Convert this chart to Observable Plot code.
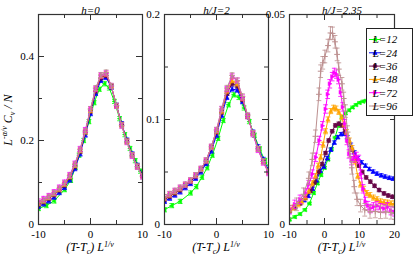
<!DOCTYPE html>
<html><head><meta charset="utf-8">
<script src="https://cdn.jsdelivr.net/npm/d3@7"></script>
<script src="https://cdn.jsdelivr.net/npm/@observablehq/plot@0.6"></script>
<style>
body{margin:0;background:#fff;}
#chart{position:relative;width:415px;height:256px;overflow:hidden;background:#fff;}
#chart svg{position:absolute;left:0;top:0;}
</style></head><body><div id="chart"></div>
<script>
// ---- series names and colours ----
const sizes = [12, 24, 36, 48, 72, 96];
const colors = ["#00ff00", "#0000ff", "#670748", "#ffa500", "#ff00ff", "#bc8f8f"];
const panelTitles = ["h=0", "h/J=2", "h/J=2.35"];

// ---- tick values ----
const xMajor12 = [-10, 0, 10], xMinor12 = [-5, 5];
const xMajor3 = [-10, 0, 10, 20], xMinor3 = [-5, 5, 15];
const yMajor1 = [0, 0.2, 0.4], yMinor1 = [0.1, 0.3];
const yMajor2 = [0, 0.1, 0.2], yMinor2 = [0.05, 0.15];
const yMajor3 = [0, 0.05], yMinor3 = [0.025];

// ---- panel 1: h=0  ([x, y]) ----
const h0_L12 = [[-10,0.038],[-8.5,0.045],[-7,0.056],[-5,0.083],[-3.8,0.105],[-2.9,0.136],[-2.2,0.165],[-1.3,0.2],[-0.3,0.245],[0.7,0.29],[1.7,0.322],[2.7,0.335],[3.6,0.325],[4.6,0.293],[5.6,0.252],[6.6,0.214],[7.6,0.181],[8.6,0.152],[9.6,0.127],[10.5,0.11]];
const h0_L24 = [[-10,0.043],[-9,0.049],[-8,0.056],[-7,0.065],[-6,0.076],[-5,0.088],[-4,0.106],[-3,0.133],[-2,0.168],[-1,0.213],[0,0.264],[1,0.312],[2,0.343],[3,0.350],[4,0.327],[5,0.284],[6,0.240],[7,0.201],[8,0.168],[9,0.141],[10,0.119]];
const h0_L36 = [[-10,0.048],[-9,0.054],[-8,0.062],[-7,0.071],[-6,0.082],[-5,0.094],[-4,0.112],[-3,0.139],[-2,0.174],[-1,0.219],[0,0.270],[1,0.318],[2,0.349],[3,0.355],[4,0.328],[5,0.283],[6,0.238],[7,0.199],[8,0.166],[9,0.139],[10,0.117]];
const h0_L48 = [[-10,0.050],[-9,0.056],[-8,0.064],[-7,0.073],[-6,0.084],[-5,0.096],[-4,0.114],[-3,0.141],[-2,0.176],[-1,0.221],[0,0.272],[1,0.322],[2,0.353],[3,0.358],[4,0.330],[5,0.283],[6,0.237],[7,0.198],[8,0.165],[9,0.138],[10,0.116]];
const h0_L72 = [[-10,0.055],[-9,0.061],[-8,0.068],[-7,0.077],[-6,0.088],[-5,0.100],[-4,0.118],[-3,0.145],[-2,0.180],[-1,0.225],[0,0.275],[1,0.323],[2,0.355],[3,0.360],[4,0.330],[5,0.282],[6,0.235],[7,0.196],[8,0.163],[9,0.137],[10,0.114]];
const h0_L96 = [[-10,0.052],[-9,0.058],[-8,0.066],[-7,0.075],[-6,0.086],[-5,0.098],[-4,0.116],[-3,0.143],[-2,0.178],[-1,0.222],[0,0.275],[1,0.325],[2,0.356],[3,0.362],[4,0.330],[5,0.283],[6,0.236],[7,0.197],[8,0.165],[9,0.138],[10,0.115]];
const err_h0 = [0.005, 0.005, 0.005, 0.005, 0.006, 0.006];

// ---- panel 2: h/J=2 ----
const h2_L12 = [[-10,0.014],[-8.6,0.018],[-7,0.022],[-5,0.030],[-3.9,0.036],[-2.8,0.045],[-1.8,0.054],[-0.8,0.066],[0.3,0.082],[1.3,0.099],[2.3,0.114],[3.3,0.1235],[4.3,0.121],[5.3,0.111],[6.3,0.098],[7.3,0.085],[8.3,0.072],[9.3,0.061],[10.3,0.052]];
const h2_L24 = [[-10,0.022],[-9,0.025],[-8,0.028],[-7,0.031],[-6,0.035],[-5,0.039],[-4,0.044],[-3,0.050],[-2,0.058],[-1,0.070],[0,0.085],[1,0.104],[2,0.121],[3,0.129],[4,0.128],[5,0.117],[6,0.103],[7,0.088],[8,0.074],[9,0.062],[10,0.052]];
const h2_L36 = [[-10,0.024],[-9,0.027],[-8,0.030],[-7,0.033],[-6,0.037],[-5,0.041],[-4,0.046],[-3,0.052],[-2,0.060],[-1,0.073],[0,0.088],[1,0.107],[2,0.125],[3,0.134],[4,0.132],[5,0.119],[6,0.103],[7,0.087],[8,0.072],[9,0.060],[10,0.050]];
const h2_L48 = [[-10,0.025],[-9,0.028],[-8,0.031],[-7,0.034],[-6,0.038],[-5,0.042],[-4,0.047],[-3,0.053],[-2,0.061],[-1,0.074],[0,0.089],[1,0.108],[2,0.127],[3,0.137],[4,0.134],[5,0.120],[6,0.103],[7,0.087],[8,0.072],[9,0.060],[10,0.050]];
const h2_L72 = [[-10,0.026],[-9,0.029],[-8,0.032],[-7,0.035],[-6,0.038],[-5,0.042],[-4,0.047],[-3,0.053],[-2,0.061],[-1,0.074],[0,0.090],[1,0.110],[2,0.129],[3,0.141],[4,0.137],[5,0.121],[6,0.103],[7,0.086],[8,0.071],[9,0.059],[10,0.049]];
const h2_L96 = [[-10,0.026],[-9,0.029],[-8,0.032],[-7,0.035],[-6,0.038],[-5,0.042],[-4,0.047],[-3,0.053],[-2,0.061],[-1,0.074],[0,0.090],[1,0.110],[2,0.130],[3,0.142],[4,0.137],[5,0.122],[6,0.104],[7,0.087],[8,0.072],[9,0.060],[10,0.050]];
const err_h2 = [0.002, 0.002, 0.002, 0.002, 0.0025, 0.0025];

// ---- panel 3: h/J=2.35 ----
const h235_L12 = [[-10,0.0012],[-8.5,0.0018],[-7,0.0025],[-5.6,0.0035],[-4.3,0.005],[-3.1,0.0075],[-2,0.0098],[-1,0.0118],[0,0.0135],[1,0.0155],[2,0.018],[3,0.0207],[4,0.0235],[5,0.0256],[6,0.0265],[7,0.0272],[8,0.0279],[9,0.0285],[10,0.029],[11,0.0293],[12,0.0295],[13.5,0.0296],[15,0.0294],[16.5,0.0292],[18,0.029],[19.5,0.0288]];
const h235_L24 = [[-10,0.0032],[-8.5,0.0042],[-7,0.0052],[-5.8,0.0058],[-4.6,0.0068],[-3.4,0.0085],[-2.3,0.0105],[-1.2,0.0128],[-0.2,0.0138],[0.8,0.0158],[1.8,0.0178],[2.8,0.0195],[3.8,0.0208],[4.7,0.0215],[5.6,0.0216],[6.5,0.0208],[7.5,0.019],[8.5,0.0172],[9.5,0.0158],[10.6,0.0148],[11.7,0.014],[12.8,0.0132],[13.9,0.0126],[15,0.0121],[16.2,0.0117],[17.3,0.0114],[18.5,0.0111],[19.6,0.0109]];
const h235_L36 = [[-10,0.0032],[-8.4,0.0041],[-7,0.005],[-5.5,0.0063],[-4,0.008],[-2.8,0.010],[-1.7,0.0125],[-0.7,0.0144],[0.3,0.017],[1.2,0.020],[2.2,0.0222],[3.1,0.0236],[4.1,0.024],[5.0,0.0236],[5.9,0.0222],[6.8,0.020],[7.8,0.0178],[8.8,0.0158],[9.8,0.014],[10.8,0.0125],[11.9,0.0112],[13.1,0.0102],[14.3,0.0092],[15.6,0.0082],[17,0.0074],[18.2,0.0069],[19.4,0.0066]];
const h235_L48 = [[-10,0.0035],[-9,0.004],[-7.5,0.0048],[-6.5,0.0055],[-5.5,0.0065],[-4.5,0.008],[-3.5,0.0098],[-2.6,0.0115],[-1.8,0.014],[-1.1,0.016],[-0.4,0.019],[0.3,0.0222],[1.0,0.025],[1.8,0.027],[2.6,0.0278],[3.3,0.0276],[4.1,0.0268],[4.9,0.0255],[5.6,0.0238],[6.3,0.022],[7.1,0.020],[7.9,0.0182],[8.7,0.015],[9.5,0.0115],[10.3,0.0095],[11.2,0.0085],[12.1,0.0075],[13,0.007],[14,0.0064],[15,0.006],[16,0.0055],[17,0.0053],[18,0.0052],[19,0.005],[20,0.005]];
const h235_L72 = [[-10,0.0035],[-8.5,0.0048],[-7,0.006],[-5.5,0.0075],[-4.5,0.0095],[-3.5,0.012],[-2.5,0.016],[-1.5,0.020],[-0.6,0.0235],[0.3,0.0275],[0.9,0.031],[1.5,0.0335],[2.2,0.0352],[2.8,0.0362],[3.4,0.0358],[4.0,0.0345],[4.6,0.0315],[5.2,0.028],[5.8,0.024],[6.4,0.020],[7.0,0.0168],[7.7,0.0152],[8.4,0.0158],[9.1,0.0162],[9.8,0.0155],[10.4,0.012],[11.0,0.0085],[11.7,0.0055],[12.4,0.0045],[13.1,0.0038],[14,0.0042],[15,0.0045],[16,0.004],[17,0.0038],[18,0.0042],[19,0.0033],[20,0.003]];
const h235_L96 = [[-10,0.003],[-8,0.0048],[-6,0.0072],[-4.5,0.011],[-3.5,0.0155],[-2.6,0.021],[-1.6,0.031],[-1.1,0.0365],[-0.5,0.0385],[0.1,0.040],[1.0,0.0426],[1.7,0.0456],[2.3,0.0455],[3.0,0.0435],[3.6,0.0405],[4.1,0.037],[5.0,0.0335],[5.5,0.030],[6.0,0.027],[6.6,0.022],[7.2,0.0175],[7.8,0.0135],[8.5,0.009],[9.3,0.006],[10.3,0.0045],[11.5,0.0035],[13,0.003],[14.5,0.0031],[16,0.0029],[17.5,0.003],[19,0.0028],[20,0.0027]];
const err_h235 = [0.0003, 0.0004, 0.0004, 0.0006, 0.001, 0.0015];

// ---- symbols ----
const triLeft = {draw(c, s){const r = Math.sqrt(s/Math.PI)*1.15; c.moveTo(-r,0); c.lineTo(r*0.7,-r*0.9); c.lineTo(r*0.7,r*0.9); c.closePath();}};
const triRight = {draw(c, s){const r = Math.sqrt(s/Math.PI)*1.15; c.moveTo(r,0); c.lineTo(-r*0.7,-r*0.9); c.lineTo(-r*0.7,r*0.9); c.closePath();}};
const triUp = {draw(c, s){const r = Math.sqrt(s/Math.PI)*1.15; c.moveTo(0,-r); c.lineTo(r*0.9,r*0.7); c.lineTo(-r*0.9,r*0.7); c.closePath();}};
const hline = {draw(c, s){const r = Math.sqrt(s/Math.PI); c.moveTo(-r,0); c.lineTo(r,0);}};
const symbols = [triLeft, triUp, "circle", triUp, triRight, "plus"];

const W = 415, H = 256, TOP = 14, BOTTOM = 224;
const FONT = "'Liberation Serif', 'Times New Roman', serif";

function panel(p) {
  const fw = p.right - p.left, fh = BOTTOM - TOP;
  const marks = [];
  p.series.forEach((arr, i) => {
    const rows = arr.map(([x, y]) => ({x, y, e: p.err[i]}));
    const col = colors[i];
    marks.push(Plot.line(rows, {x: "x", y: "y", stroke: col, strokeWidth: 1, clip: true}));
    marks.push(Plot.ruleX(rows, {x: "x", y1: d => d.y - d.e, y2: d => d.y + d.e, stroke: col, strokeWidth: 0.8, clip: true}));
    marks.push(Plot.dot(rows, {x: "x", y: d => d.y + d.e, symbol: hline, r: 2.4, stroke: col, strokeWidth: 0.8, clip: true}));
    marks.push(Plot.dot(rows, {x: "x", y: d => d.y - d.e, symbol: hline, r: 2.4, stroke: col, strokeWidth: 0.8, clip: true}));
    const sym = symbols[i];
    marks.push(Plot.dot(rows, {x: "x", y: "y", symbol: sym, r: 2, fill: sym === "plus" ? "none" : col, stroke: col, strokeWidth: sym === "plus" ? 1 : 0.5, clip: true}));
  });
  // inward ticks
  const tk = {stroke: "#333", strokeWidth: 1};
  marks.push(Plot.tickY(p.yMajor, {y: d => d, insetRight: fw - 6, ...tk}));
  marks.push(Plot.tickY(p.yMajor, {y: d => d, insetLeft: fw - 6, ...tk}));
  marks.push(Plot.tickY(p.yMinor, {y: d => d, insetRight: fw - 4, ...tk}));
  marks.push(Plot.tickY(p.yMinor, {y: d => d, insetLeft: fw - 4, ...tk}));
  marks.push(Plot.tickX(p.xMajor, {x: d => d, insetBottom: fh - 6, ...tk}));
  marks.push(Plot.tickX(p.xMajor, {x: d => d, insetTop: fh - 6, ...tk}));
  marks.push(Plot.tickX(p.xMinor, {x: d => d, insetBottom: fh - 4, ...tk}));
  marks.push(Plot.tickX(p.xMinor, {x: d => d, insetTop: fh - 4, ...tk}));
  marks.push(Plot.frame({stroke: "#333", strokeWidth: 1.2}));
  marks.push(Plot.text([p.title], {text: d => d, frameAnchor: "top", dy: -8, fontStyle: "italic", fontSize: 11}));

  const svg = Plot.plot({
    width: W, height: H,
    marginLeft: p.left, marginRight: W - p.right, marginTop: TOP, marginBottom: H - BOTTOM,
    style: {fontFamily: FONT, fontSize: "11px", background: "transparent", overflow: "visible", color: "#000"},
    x: {domain: p.xDomain, ticks: p.xMajor, tickSize: 0, tickPadding: 5.5, tickFormat: d => String(d), label: null},
    y: {domain: p.yDomain, ticks: p.yMajor, tickSize: 0, tickPadding: 4.5, tickFormat: d => String(d), label: null},
    marks
  });

  // x-axis label with subscript/superscript
  const s = d3.select(svg);
  const cx = (p.left + p.right) / 2;
  const t = s.append("text").attr("x", cx).attr("y", 251).attr("text-anchor", "middle")
    .attr("font-family", FONT).attr("font-size", 12).attr("font-style", "italic").attr("fill", "#000");
  t.append("tspan").text("(T-T");
  t.append("tspan").attr("font-size", 8).attr("dy", 3).text("c");
  t.append("tspan").attr("dy", -3).text(") L");
  t.append("tspan").attr("font-size", 8).attr("dy", -4).text("1/ν");
  return svg;
}

const root = document.getElementById("chart");

root.appendChild(panel({
  title: panelTitles[0], left: 38, right: 142, xDomain: [-10, 10], yDomain: [0, 0.5],
  xMajor: xMajor12, xMinor: xMinor12, yMajor: yMajor1, yMinor: yMinor1,
  series: [h0_L12, h0_L24, h0_L36, h0_L48, h0_L72, h0_L96], err: err_h0
}));
root.appendChild(panel({
  title: panelTitles[1], left: 164, right: 268, xDomain: [-10, 10], yDomain: [0, 0.2],
  xMajor: xMajor12, xMinor: xMinor12, yMajor: yMajor2, yMinor: yMinor2,
  series: [h2_L12, h2_L24, h2_L36, h2_L48, h2_L72, h2_L96], err: err_h2
}));
const p3 = panel({
  title: panelTitles[2], left: 289, right: 394, xDomain: [-10, 20], yDomain: [0, 0.05],
  xMajor: xMajor3, xMinor: xMinor3, yMajor: yMajor3, yMinor: yMinor3,
  series: [h235_L12, h235_L24, h235_L36, h235_L48, h235_L72, h235_L96], err: err_h235
});
root.appendChild(p3);

// legend (inside panel 3)
const lg = d3.select(p3).append("g");
lg.append("rect").attr("x", 366.5).attr("y", 28.5).attr("width", 46).attr("height", 87)
  .attr("fill", "#fff").attr("stroke", "#222").attr("stroke-width", 1);
sizes.forEach((L, i) => {
  const y = 39.5 + i * 13.3;
  lg.append("line").attr("x1", 369).attr("x2", 381).attr("y1", y).attr("y2", y)
    .attr("stroke", colors[i]).attr("stroke-width", 1);
  const sym = symbols[i];
  const path = d3.path();
  (typeof sym === "string" ? (sym === "circle" ? d3.symbolCircle : d3.symbolPlus) : sym).draw(path, 4 * Math.PI);
  lg.append("path").attr("d", path.toString()).attr("transform", `translate(375,${y})`)
    .attr("fill", sym === "plus" ? "none" : colors[i]).attr("stroke", colors[i]).attr("stroke-width", 0.6);
  lg.append("text").attr("x", 385).attr("y", y).attr("dy", "0.35em")
    .attr("font-family", FONT).attr("font-size", 11).attr("font-style", "italic").text(`L=${L}`);
});

// y-axis label
const yl = d3.select(root.querySelector("svg")).append("text")
  .attr("transform", "translate(12,120) rotate(-90)").attr("text-anchor", "middle")
  .attr("font-family", FONT).attr("font-size", 12).attr("font-style", "italic").attr("fill", "#000");
yl.append("tspan").text("L");
yl.append("tspan").attr("font-size", 8).attr("dy", -5).text("-α/ν");
yl.append("tspan").attr("dy", 5).text(" C");
yl.append("tspan").attr("font-size", 8).attr("dy", 3).text("v");
yl.append("tspan").attr("dy", -3).text(" / N");
</script></body></html>
